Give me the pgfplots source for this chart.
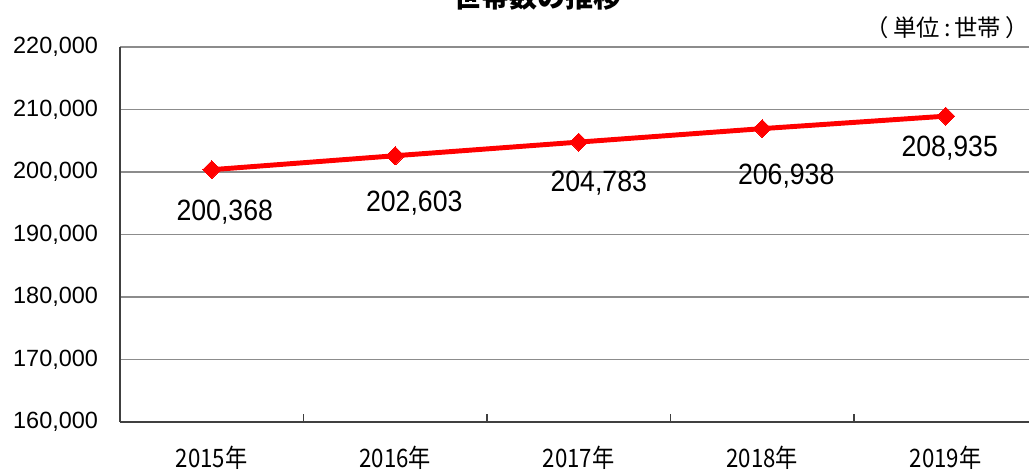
\documentclass[border=0pt]{standalone}
\usepackage{pgfplots}
\pgfplotsset{compat=1.18}
\usepackage{pgfplotstable}
\usepackage{graphicx}
\usepackage{fontspec}
\setmainfont{Liberation Sans}
\newfontfamily\cjk{Noto Sans CJK JP}
\definecolor{gridgray}{HTML}{8C8C8C}
\definecolor{axisgray}{HTML}{404040}
\newcommand{\yl}[1]{\scalebox{0.98}[1.12]{#1}}
\pgfplotstableread{
x y dx dy lab
0 200368 9.75 -31.5 {200,368}
1 202603 14.25 -35.25 {202,603}
2 204783 15 -30.75 {204,783}
3 206938 18 -36 {206,938}
4 208935 3 -24 {208,935}
}\datatable
\begin{document}
\begin{tikzpicture}
\useasboundingbox (0,0) rectangle (771.75pt,352.5pt);
\begin{axis}[
  at={(90pt,36pt)}, anchor=south west,
  scale only axis, width=688.1pt, height=281.25pt,
  xmin=-0.5, xmax=4.5, ymin=160000, ymax=220000,
  axis x line=bottom, axis y line=left,
  axis line style={-, axisgray, line width=1.5pt},
  xtick={0,1,2,3,4},
  xticklabels={\yl{2015年},\yl{2016年},\yl{2017年},\yl{2018年},\yl{2019年}},
  xticklabel style={font=\cjk\fontsize{17}{20}\selectfont, anchor=center, inner sep=0pt, yshift=-26.6pt},
  major tick length=0pt,
  extra x ticks={0.5,1.5,2.5,3.5},
  extra x tick labels={},
  extra x tick style={major tick length=6pt, tick align=inside, tick style={axisgray, line width=0.8pt}, grid=none},
  scaled y ticks=false,
  ytick={160000,170000,180000,190000,200000,210000,220000},
  yticklabels={{160,000},{170,000},{180,000},{190,000},{200,000},{210,000},{220,000}},
  yticklabel style={font=\fontsize{17.6}{20}\selectfont, inner sep=0pt, xshift=-16.3pt},
  ymajorgrids, grid style={gridgray, line width=1.1pt},
  clip=false,
  point meta=explicit symbolic,
  nodes near coords={\scalebox{1}[1.1]{\pgfplotspointmeta}},
  visualization depends on={\thisrow{dx} \as \dx},
  visualization depends on={\thisrow{dy} \as \dy},
  every node near coord/.append style={font=\fontsize{20}{24}\selectfont, anchor=center, xshift=\dx pt, yshift=\dy pt, text=black},
]
\addplot[red, line width=3.7pt, mark=square*, mark size=4.8pt, mark options={rotate=45, fill=red, draw=red, line width=0pt}] table[x=x, y=y, meta=lab] {\datatable};
\end{axis}
\node[font=\cjk\bfseries\fontsize{21}{25}\selectfont, anchor=base, inner sep=0pt] at (403pt,346.5pt) {世帯数の推移};
\node[font=\cjk\fontsize{17.5}{20}\selectfont, inner sep=0pt] at (710.6pt,331.9pt) {（\hspace{0.2em}単位\,:\,世帯\hspace{0.2em}）};
\end{tikzpicture}
\end{document}
